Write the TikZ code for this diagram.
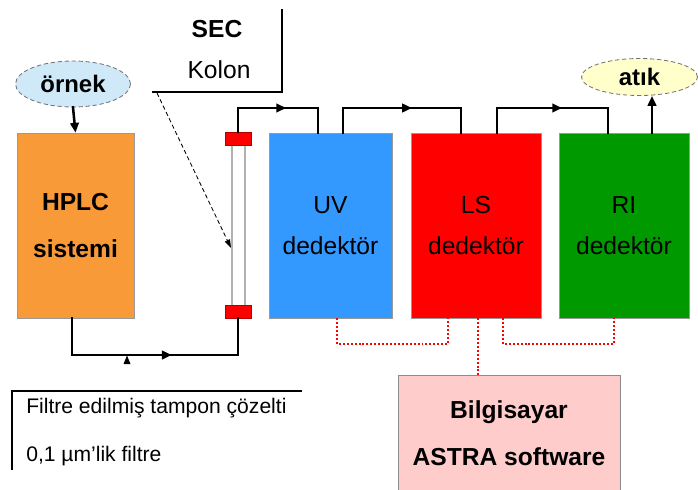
\documentclass[tikz,border=0pt]{standalone}
\usepackage{fontspec}
\setmainfont{Liberation Sans}
\usetikzlibrary{shapes.geometric,arrows.meta,decorations.markings}

\definecolor{ornekblue}{HTML}{CFE9F8}
\definecolor{atikyellow}{HTML}{FFFFCC}
\definecolor{hplcorange}{HTML}{F99A38}
\definecolor{uvblue}{HTML}{3399FF}
\definecolor{lsred}{HTML}{FF0000}
\definecolor{rigreen}{HTML}{009900}
\definecolor{pcpink}{HTML}{FFCCCC}

\newcommand{\pu}{0.025cm}

\tikzset{
  unit/.style={rectangle, draw=black!40, line width=0.4pt, inner sep=0pt,
    align=center, font=\fontsize{17.5}{29}\selectfont, text=black},
  blob/.style={ellipse, draw=black!55, densely dashed, line width=0.6pt,
    inner sep=0pt, font=\fontsize{17}{20}\selectfont\bfseries},
  flow/.style={line width=1.8pt, line cap=rect},
  tip/.style={-{Triangle[length=7pt,width=6pt]}},
  midtip/.style={postaction={decorate}, decoration={markings,
    mark=at position #1 with {\arrow{Triangle[length=7pt,width=6pt]}}}},
  signal/.style={draw=lsred, line width=2pt, dash pattern=on 1.4pt off 1.4pt},
  label/.style={inner sep=0pt, anchor=base west, font=\fontsize{15}{18}\selectfont},
}

\begin{document}
\begin{tikzpicture}[x=0.025cm, y=-0.025cm]
  \useasboundingbox (0,0) rectangle (698,489);

  % sample, pump and detectors
  \node[blob, fill=ornekblue, minimum width=115*\pu, minimum height=46*\pu] (ornek) at (73,84) {örnek};
  \node[unit, fill=hplcorange, font=\fontsize{17.5}{33}\selectfont\bfseries,
    minimum width=117*\pu, minimum height=185*\pu] (hplc) at (75.5,225.5) {HPLC\\sistemi};
  \node[unit, fill=uvblue, minimum width=123*\pu, minimum height=185*\pu] (uv) at (330.5,225.5) {UV\\dedektör};
  \node[unit, fill=lsred, minimum width=130*\pu, minimum height=185*\pu] (ls) at (476,225.5) {LS\\dedektör};
  \node[unit, fill=rigreen, minimum width=130*\pu, minimum height=185*\pu] (ri) at (624,225.5) {RI\\dedektör};
  \node[blob, fill=atikyellow, minimum width=116*\pu, minimum height=37*\pu] (atik) at (639.5,77) {atık};
  \node[unit, fill=pcpink, draw=black!45, font=\fontsize{17.5}{33}\selectfont\bfseries,
    minimum width=222*\pu, minimum height=116*\pu] (pc) at (509,433) {Bilgisayar\\ASTRA software};

  % column
  \draw[black!30, line width=0.8pt] (232,145) -- (232,305) (245,145) -- (245,305);
  \node[rectangle, fill=lsred, draw=lsred!70!black, line width=0.3pt, inner sep=0pt,
    minimum width=26*\pu, minimum height=13*\pu] (captop) at (238,138.5) {};
  \node[rectangle, fill=lsred, draw=lsred!70!black, line width=0.3pt, inner sep=0pt,
    minimum width=26*\pu, minimum height=13*\pu] (capbot) at (238,311.5) {};

  % SEC callout
  \draw[line width=0.8pt] (282,9) -- (282,92) -- (152,92);
  \node[inner sep=0pt, font=\fontsize{17.5}{20}\selectfont\bfseries] (sec) at (217,29) {SEC};
  \node[inner sep=0pt, font=\fontsize{17.5}{20}\selectfont] (kolon) at (219,70) {Kolon};
  \coordinate (secpt) at (157,93);
  \coordinate (tubept) at (231,248);
  \draw[densely dashed, line width=0.6pt, -{Triangle[length=6pt,width=4pt]}] (secpt) -- (tubept);

  % filter note
  \draw[line width=0.8pt] (302,391) -- (12,391) -- (12,470);
  \node[label] (buffer) at (26,413) {Filtre edilmiş tampon çözelti};
  \node[label] (filter) at (26,461) {0,1 µm\char"0027 lik filtre};
  \fill (123.5,364) -- (127,355.5) -- (130.5,364) -- cycle;

  % flow path
  \draw[flow, tip] (ornek.south) -- (hplc.north);
  \draw[flow, midtip=0.57] (72,0 |- hplc.south) -- (72,355) -- (238,355) -- (capbot.south);
  \draw[flow, midtip=0.56] (captop.north) -- (238,108) -- (318,108) -- (318,0 |- uv.north);
  \draw[flow, midtip=0.56] (343,0 |- uv.north) -- (343,108) -- (461,108) -- (461,0 |- ls.north);
  \draw[flow, midtip=0.56] (497,0 |- ls.north) -- (497,108) -- (608,108) -- (608,0 |- ri.north);
  \draw[flow, tip] (652,0 |- ri.north) -- (652,0 |- atik.south);

  % signal cables
  \draw[signal] (337,0 |- uv.south) -- (337,344) -- (448,344) -- (448,0 |- ls.south);
  \draw[signal] (478,0 |- ls.south) -- (478,0 |- pc.north);
  \draw[signal] (503,0 |- ls.south) -- (503,344) -- (614,344) -- (614,0 |- ri.south);
\end{tikzpicture}
\end{document}
